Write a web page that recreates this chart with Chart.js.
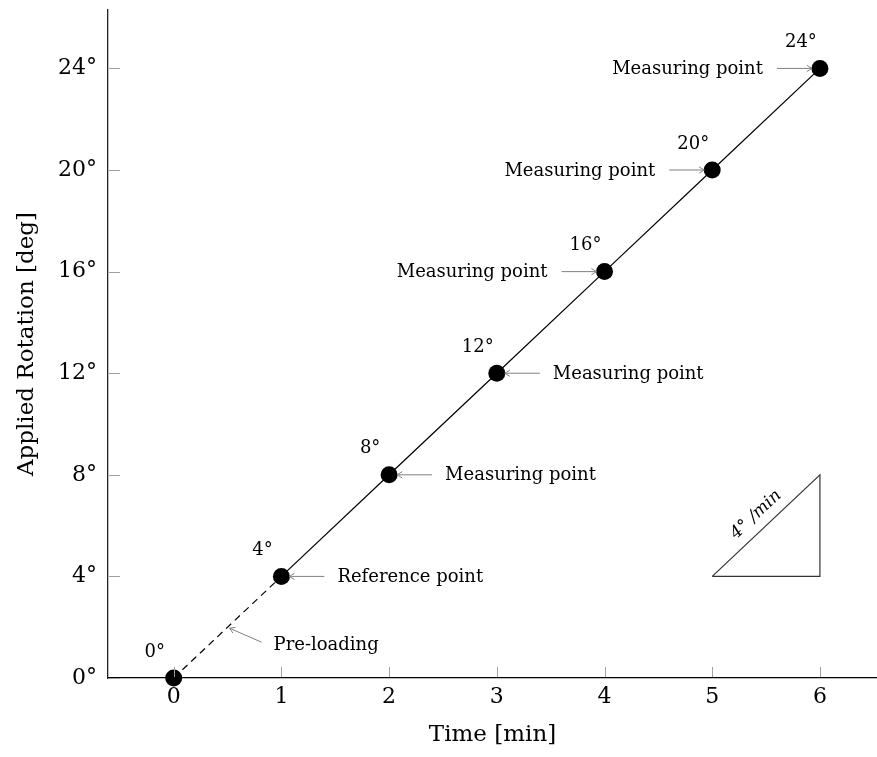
<!DOCTYPE html>
<html>
<head>
<meta charset="utf-8">
<script src="https://cdn.jsdelivr.net/npm/chart.js@4/dist/chart.umd.min.js"></script>
<style>
  html, body { margin: 0; padding: 0; background: #fff; }
  #wrap { width: 877px; height: 757px; }
</style>
</head>
<body>
<div id="wrap"><canvas id="MyChart" width="877" height="757"></canvas></div>
<script>
// values
var timeMin = [0, 1, 2, 3, 4, 5, 6];
var rotationDeg = [0, 4, 8, 12, 16, 20, 24];
var xTickValues = [0, 1, 2, 3, 4, 5, 6];
var yTickValues = [0, 4, 8, 12, 16, 20, 24];
var pointNotes = ['', 'Reference point', 'Measuring point', 'Measuring point', 'Measuring point', 'Measuring point', 'Measuring point'];
var preloadNote = 'Pre-loading';
var triangleX = [5, 6, 6, 5];
var triangleY = [4, 4, 8, 4];
var slopeLabel = '4° /min';

var SERIF = "'DejaVu Serif', serif";

function arrow(ctx, x0, y0, x1, y1) {
    var a = Math.atan2(y1 - y0, x1 - x0);
    ctx.beginPath();
    ctx.moveTo(x0, y0);
    ctx.lineTo(x1, y1);
    ctx.moveTo(x1 - 6 * Math.cos(a - 0.55), y1 - 6 * Math.sin(a - 0.55));
    ctx.lineTo(x1, y1);
    ctx.lineTo(x1 - 6 * Math.cos(a + 0.55), y1 - 6 * Math.sin(a + 0.55));
    ctx.stroke();
}

var notesPlugin = {
    id: 'notes',
    afterDatasetsDraw: function (chart) {
        var ctx = chart.ctx;
        var xs = chart.scales.x, ys = chart.scales.y;
        var area = chart.chartArea;
        ctx.save();

        // inward tick marks
        ctx.strokeStyle = '#a0a0a0';
        ctx.lineWidth = 1;
        ctx.beginPath();
        xTickValues.forEach(function (v) {
            var px = Math.round(xs.getPixelForValue(v)) + 0.5;
            ctx.moveTo(px, area.bottom - 1);
            ctx.lineTo(px, area.bottom - 11);
        });
        yTickValues.forEach(function (v) {
            var py = Math.round(ys.getPixelForValue(v)) + 0.5;
            ctx.moveTo(area.left + 1, py);
            ctx.lineTo(area.left + 12, py);
        });
        ctx.stroke();

        // degree labels above each point
        ctx.fillStyle = '#000';
        ctx.font = '18px ' + SERIF;
        ctx.textAlign = 'center';
        ctx.textBaseline = 'middle';
        timeMin.forEach(function (t, i) {
            var px = xs.getPixelForValue(t), py = ys.getPixelForValue(rotationDeg[i]);
            ctx.fillText(rotationDeg[i] + '°', px - 19, py - 26);
        });

        // point notes with arrows
        ctx.font = '18px ' + SERIF;
        timeMin.forEach(function (t, i) {
            if (!pointNotes[i]) return;
            var px = xs.getPixelForValue(t), py = ys.getPixelForValue(rotationDeg[i]);
            ctx.strokeStyle = '#808080';
            ctx.lineWidth = 1;
            if (i <= 3) {
                arrow(ctx, px + 43, py, px + 8, py);
                ctx.textAlign = 'left';
                ctx.fillText(pointNotes[i], px + 56, py + 1);
            } else {
                arrow(ctx, px - 43, py, px - 8, py);
                ctx.textAlign = 'right';
                ctx.fillText(pointNotes[i], px - 57, py + 1);
            }
        });

        // pre-loading note, aimed at the middle of the dashed segment
        var mx = xs.getPixelForValue((timeMin[0] + timeMin[1]) / 2);
        var my = ys.getPixelForValue((rotationDeg[0] + rotationDeg[1]) / 2);
        ctx.strokeStyle = '#808080';
        arrow(ctx, mx + 34, my + 15, mx + 2, my + 1);
        ctx.textAlign = 'left';
        ctx.fillText(preloadNote, mx + 46, my + 18);

        // slope label along the triangle hypotenuse
        var ax = xs.getPixelForValue(triangleX[0]), ay = ys.getPixelForValue(triangleY[0]);
        var bx = xs.getPixelForValue(triangleX[2]), by = ys.getPixelForValue(triangleY[2]);
        var ang = Math.atan2(by - ay, bx - ax);
        ctx.translate((ax + bx) / 2 - 10, (ay + by) / 2 - 11);
        ctx.rotate(ang);
        ctx.font = 'italic 17px ' + SERIF;
        ctx.textAlign = 'center';
        ctx.textBaseline = 'middle';
        ctx.fillStyle = '#000';
        ctx.fillText(slopeLabel, 0, 0);

        ctx.restore();
    }
};

var points = timeMin.map(function (t, i) { return { x: t, y: rotationDeg[i] }; });
var triangle = triangleX.map(function (t, i) { return { x: t, y: triangleY[i] }; });

var ctx = document.getElementById('MyChart').getContext('2d');
var config = {
    type: 'line',
    data: {
        datasets: [
            {
                data: points,
                borderColor: '#000',
                borderWidth: 1.2,
                pointRadius: 8.5,
                pointBackgroundColor: '#000',
                pointBorderColor: '#000',
                pointBorderWidth: 0,
                segment: {
                    borderDash: function (c) { return c.p0DataIndex === 0 ? [7, 5] : undefined; }
                },
                clip: false
            },
            {
                data: triangle,
                borderColor: '#333',
                borderWidth: 1.2,
                pointRadius: 0
            }
        ]
    },
    options: {
        responsive: false,
        animation: false,
        events: [],
        layout: { autoPadding: false, padding: { top: 10, right: 0, left: 0, bottom: 0 } },
        plugins: {
            legend: { display: false },
            tooltip: { enabled: false }
        },
        scales: {
            x: {
                type: 'linear',
                min: -0.61,
                max: 6.53,
                afterFit: function (s) { s.height = 79; s.paddingLeft = 0; s.paddingRight = 0; },
                afterBuildTicks: function (s) { s.ticks = xTickValues.map(function (v) { return { value: v }; }); },
                grid: { display: false, drawTicks: false },
                border: { display: true, color: '#000', width: 1.3 },
                ticks: {
                    color: '#000',
                    padding: 6,
                    maxRotation: 0,
                    font: { family: SERIF, size: 22 },
                    callback: function (v) { return String(v); }
                },
                title: {
                    display: true,
                    text: 'Time [min]',
                    color: '#000',
                    font: { family: SERIF, size: 23 },
                    padding: { top: 0, bottom: 8 }
                }
            },
            y: {
                type: 'linear',
                min: 0,
                max: 26.3,
                afterFit: function (s) { s.width = 108; s.paddingTop = 0; s.paddingBottom = 0; },
                afterBuildTicks: function (s) { s.ticks = yTickValues.map(function (v) { return { value: v }; }); },
                grid: { display: false, drawTicks: false },
                border: { display: true, color: '#222', width: 1.3 },
                ticks: {
                    color: '#000',
                    padding: 11,
                    font: { family: SERIF, size: 22 },
                    callback: function (v) { return v + '°'; }
                },
                title: {
                    display: true,
                    text: 'Applied Rotation [deg]',
                    color: '#000',
                    font: { family: SERIF, size: 23 },
                    padding: { top: 13, bottom: 0 }
                }
            }
        }
    },
    plugins: [notesPlugin]
};
new Chart(ctx, config);
</script>
</body>
</html>
